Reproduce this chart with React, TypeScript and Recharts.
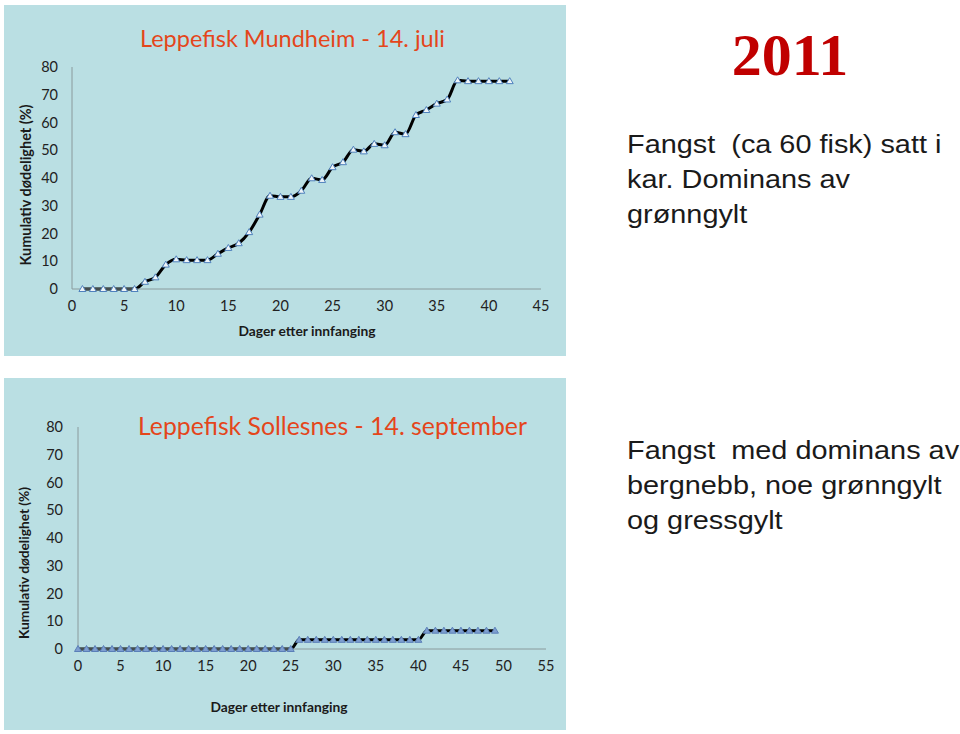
import { Line, LineChart, XAxis, YAxis } from "recharts";

// Mundheim, 14. juli: dager etter innfanging vs kumulativ dødelighet (%)
const mundheimDays = [
  1, 2, 3, 4, 5, 6, 7, 8, 9, 10, 11, 12, 13, 14, 15, 16, 17, 18, 19, 20, 21,
  22, 23, 24, 25, 26, 27, 28, 29, 30, 31, 32, 33, 34, 35, 36, 37, 38, 39, 40,
  41, 42,
];
const mundheimMort = [
  0, 0, 0, 0, 0, 0, 2.6, 4.2, 8.8, 10.7, 10.4, 10.4, 10.4, 12.7, 14.8, 16.5,
  20.5, 26.8, 33.6, 33.2, 33.2, 35.4, 39.9, 39.3, 43.9, 45.7, 50.2, 49.6, 52.3,
  51.8, 56.5, 55.8, 62.7, 64.5, 66.8, 68.3, 75.2, 74.9, 74.9, 74.9, 74.9, 74.9,
];

// Sollesnes, 14. september
const sollesnesDays = [
  0, 1, 2, 3, 4, 5, 6, 7, 8, 9, 10, 11, 12, 13, 14, 15, 16, 17, 18, 19, 20,
  21, 22, 23, 24, 25, 26, 27, 28, 29, 30, 31, 32, 33, 34, 35, 36, 37, 38, 39,
  40, 41, 42, 43, 44, 45, 46, 47, 48, 49,
];
const sollesnesMort = [
  0, 0, 0, 0, 0, 0, 0, 0, 0, 0, 0, 0, 0, 0, 0, 0, 0, 0, 0, 0, 0, 0, 0, 0, 0,
  0, 3.3, 3.3, 3.3, 3.3, 3.3, 3.3, 3.3, 3.3, 3.3, 3.3, 3.3, 3.3, 3.3, 3.3, 3.3,
  6.6, 6.6, 6.6, 6.6, 6.6, 6.6, 6.6, 6.6, 6.6,
];

const yTicks = [0, 10, 20, 30, 40, 50, 60, 70, 80];
const topXTicks = [0, 5, 10, 15, 20, 25, 30, 35, 40, 45];
const bottomXTicks = [0, 5, 10, 15, 20, 25, 30, 35, 40, 45, 50, 55];

const PANEL = "#badfe3";
const TITLE = "#e4461b";
const FONT = "Lato, 'Open Sans', sans-serif";

const topData = mundheimDays.map((d, i) => ({ day: d, mort: mundheimMort[i] }));
const bottomData = sollesnesDays.map((d, i) => ({ day: d, mort: sollesnesMort[i] }));

function triangle(fill: string, stroke: string) {
  return (props: any) => {
    const { cx, cy, index } = props;
    if (cx == null || cy == null) return <g key={index} />;
    return (
      <path
        key={index}
        d={`M${cx},${cy - 3.5} L${cx + 3.5},${cy + 2.5} L${cx - 3.5},${cy + 2.5} Z`}
        fill={fill}
        stroke={stroke}
        strokeWidth={1}
      />
    );
  };
}

function rotatedLabel(x: number, y: number, size: number) {
  return () => (
    <text
      x={x}
      y={y}
      transform={`rotate(-90 ${x} ${y})`}
      textAnchor="middle"
      dominantBaseline="central"
      fontFamily={FONT}
      fontWeight={700}
      fontSize={size}
      fill="#1a1a1a"
    >
      Kumulativ dødelighet (%)
    </text>
  );
}

function xLabel(x: number, y: number) {
  return () => (
    <text
      x={x}
      y={y}
      textAnchor="middle"
      dominantBaseline="central"
      fontFamily={FONT}
      fontWeight={700}
      fontSize={13.8}
      fill="#1a1a1a"
    >
      Dager etter innfanging
    </text>
  );
}

const tick = { fontSize: 14.5, fill: "#222", fontFamily: FONT };

const sideText = {
  position: "absolute" as const,
  left: 627,
  fontFamily: "'Liberation Sans', Arial, sans-serif",
  fontSize: 26,
  lineHeight: "35px",
  color: "#1a1a1a",
  whiteSpace: "pre" as const,
  transform: "scaleX(1.11)",
  transformOrigin: "left top",
};

export default function App() {
  return (
    <div style={{ position: "absolute", left: 0, top: 0, width: 960, height: 734, background: "#fff", overflow: "hidden" }}>
      {/* Mundheim panel */}
      <div style={{ position: "absolute", left: 4, top: 5, width: 562, height: 351, background: PANEL }}>
        <LineChart width={562} height={351} data={topData} margin={{ top: 62, right: 25, bottom: 37, left: 0 }}>
          <XAxis
            dataKey="day"
            type="number"
            domain={[0, 45]}
            ticks={topXTicks}
            tickLine={false}
            tickSize={0}
            tickMargin={12}
            stroke="#8a9a9c"
            tick={tick}
            label={xLabel(303, 325)}
          />
          <YAxis
            type="number"
            domain={[0, 80]}
            ticks={yTicks}
            width={68}
            tickLine={false}
            tickSize={0}
            tickMargin={14}
            stroke="#8a9a9c"
            tick={tick}
            label={rotatedLabel(21, 180, 14.5)}
          />
          <Line
            dataKey="mort"
            type="monotone"
            stroke="#000"
            strokeWidth={3}
            dot={triangle("#eef4f8", "#4f81bd")}
            isAnimationActive={false}
          />
        </LineChart>
        <div style={{ position: "absolute", left: 136, top: 19, fontFamily: FONT, fontSize: 23.5, color: TITLE, whiteSpace: "nowrap" }}>
          Leppefisk Mundheim - 14. juli
        </div>
      </div>

      {/* Sollesnes panel */}
      <div style={{ position: "absolute", left: 4, top: 378, width: 562, height: 352, background: PANEL }}>
        <LineChart width={562} height={352} data={bottomData} margin={{ top: 49, right: 20, bottom: 51, left: 0 }}>
          <XAxis
            dataKey="day"
            type="number"
            domain={[0, 55]}
            ticks={bottomXTicks}
            tickLine={false}
            tickSize={0}
            tickMargin={12}
            stroke="#8a9a9c"
            tick={tick}
            label={xLabel(275, 328)}
          />
          <YAxis
            type="number"
            domain={[0, 80]}
            ticks={yTicks}
            width={74}
            tickLine={false}
            tickSize={0}
            tickMargin={15}
            stroke="#8a9a9c"
            tick={tick}
            label={rotatedLabel(19, 185, 13.7)}
          />
          <Line
            dataKey="mort"
            type="monotone"
            stroke="#000"
            strokeWidth={3}
            dot={triangle("#7f9fd0", "#5a7fb8")}
            isAnimationActive={false}
          />
        </LineChart>
        <div style={{ position: "absolute", left: 134, top: 33, fontFamily: FONT, fontSize: 24.8, color: TITLE, whiteSpace: "nowrap" }}>
          Leppefisk Sollesnes - 14. september
        </div>
      </div>

      {/* Right-hand text */}
      <div
        style={{
          position: "absolute",
          left: 690,
          top: 21,
          width: 200,
          textAlign: "center",
          fontFamily: "'Liberation Serif', serif",
          fontWeight: 700,
          fontSize: 60,
          color: "#c00000",
          lineHeight: "68px",
        }}
      >
        2011
      </div>
      <div style={{ ...sideText, top: 127 }}>
        {"Fangst  (ca 60 fisk) satt i\nkar. Dominans av\ngrønngylt"}
      </div>
      <div style={{ ...sideText, top: 433 }}>
        {"Fangst  med dominans av\nbergnebb, noe grønngylt\nog gressgylt"}
      </div>
    </div>
  );
}
